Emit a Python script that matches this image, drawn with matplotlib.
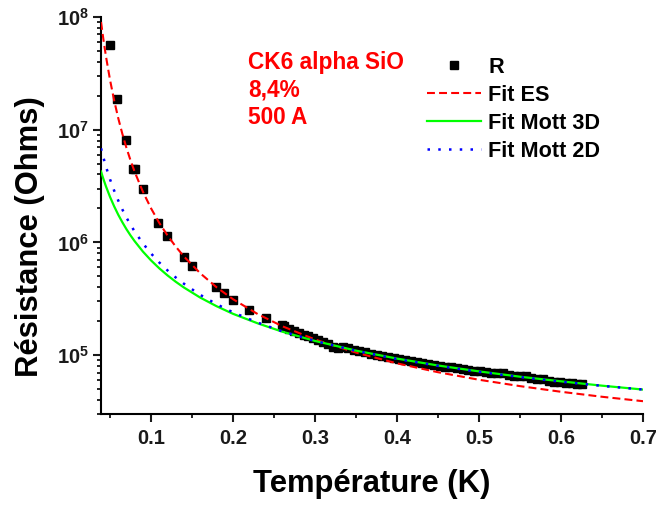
import numpy as np
import matplotlib
matplotlib.use("Agg")
import matplotlib.pyplot as plt
from matplotlib.ticker import FixedLocator, FixedFormatter, LogLocator, NullFormatter
from matplotlib.lines import Line2D

plt.rcParams['font.family'] = ['Liberation Sans', 'DejaVu Sans']
plt.rcParams['font.weight'] = 'bold'
plt.rcParams['mathtext.fontset'] = 'custom'
plt.rcParams['mathtext.rm'] = 'Liberation Sans:bold'
plt.rcParams['mathtext.it'] = 'Liberation Sans:bold'
plt.rcParams['mathtext.bf'] = 'Liberation Sans:bold'

# measured points (K, Ohms)
T_low = [0.050, 0.059, 0.070, 0.078, 0.080, 0.090, 0.109, 0.119, 0.140, 0.150,
         0.179, 0.189, 0.200, 0.219, 0.240, 0.260]
R_low = [5.65e7, 1.87e7, 8.1e6, 4.5e6, 4.5e6, 2.99e6, 1.49e6, 1.13e6, 7.36e5, 6.22e5,
         4.0e5, 3.56e5, 3.07e5, 2.5e5, 2.16e5, 1.84e5]
T_dense = [0.262, 0.268, 0.274, 0.280, 0.286, 0.292, 0.298, 0.304, 0.310, 0.316,
           0.322, 0.328, 0.334, 0.340, 0.347, 0.354, 0.361, 0.368, 0.375, 0.382,
           0.389, 0.396, 0.403, 0.410, 0.417, 0.424, 0.431, 0.438, 0.445, 0.452,
           0.459, 0.466, 0.473, 0.480, 0.487, 0.494, 0.501, 0.508, 0.515, 0.522,
           0.529, 0.536, 0.543, 0.550, 0.557, 0.564, 0.571, 0.578, 0.585, 0.592,
           0.599, 0.606, 0.613, 0.620, 0.626]
R_dense = [1.80e5, 1.72e5, 1.64e5, 1.58e5, 1.52e5, 1.47e5, 1.42e5, 1.37e5, 1.32e5, 1.27e5,
           1.19e5, 1.17e5, 1.18e5, 1.15e5, 1.11e5, 1.085e5, 1.06e5, 1.03e5, 1.005e5, 9.85e4,
           9.75e4, 9.45e4, 9.2e4, 9.0e4, 8.85e4, 8.7e4, 8.5e4, 8.35e4, 8.2e4, 8.05e4,
           7.95e4, 7.9e4, 7.7e4, 7.55e4, 7.45e4, 7.3e4, 7.2e4, 7.1e4, 7.0e4, 6.9e4,
           6.9e4, 6.7e4, 6.6e4, 6.5e4, 6.5e4, 6.3e4, 6.2e4, 6.15e4, 5.95e4, 5.85e4,
           5.8e4, 5.7e4, 5.65e4, 5.6e4, 5.55e4]

# fit curves
T_fit = [0.039, 0.042, 0.045, 0.05, 0.055, 0.06, 0.065, 0.07, 0.075, 0.08,
         0.09, 0.10, 0.11, 0.12, 0.13, 0.14, 0.16, 0.18, 0.20, 0.23,
         0.26, 0.30, 0.35, 0.40, 0.45, 0.50, 0.55, 0.60, 0.65, 0.70]
R_es = [8.98e7, 6.22e7, 4.46e7, 2.75e7, 1.815e7, 1.262e7, 9.17e6, 6.89e6, 5.33e6, 4.23e6,
        2.82e6, 2.005e6, 1.49e6, 1.155e6, 9.21e5, 7.52e5, 5.33e5, 4.00e5, 3.14e5, 2.32e5,
        1.81e5, 1.38e5, 1.056e5, 8.48e4, 7.08e4, 6.07e4, 5.33e4, 4.75e4, 4.29e4, 3.92e4]
R_mott3d = [4.25e6, 3.63e6, 3.14e6, 2.53e6, 2.09e6, 1.76e6, 1.51e6, 1.31e6, 1.153e6, 1.026e6,
            8.31e5, 6.93e5, 5.90e5, 5.11e5, 4.49e5, 3.99e5, 3.245e5, 2.72e5, 2.33e5, 1.92e5,
            1.62e5, 1.34e5, 1.10e5, 9.35e4, 8.12e4, 7.20e4, 6.46e4, 5.88e4, 5.38e4, 4.97e4]
R_mott2d = [6.82e6, 5.62e6, 4.70e6, 3.62e6, 2.88e6, 2.35e6, 1.96e6, 1.66e6, 1.434e6, 1.25e6,
            9.83e5, 7.98e5, 6.65e5, 5.66e5, 4.90e5, 4.31e5, 3.43e5, 2.835e5, 2.40e5, 1.95e5,
            1.63e5, 1.34e5, 1.095e5, 9.27e4, 8.06e4, 7.13e4, 6.41e4, 5.83e4, 5.36e4, 4.97e4]

x_major = [0.1, 0.2, 0.3, 0.4, 0.5, 0.6, 0.7]
x_minor = [0.05, 0.15, 0.25, 0.35, 0.45, 0.55, 0.65]
y_major = [1e5, 1e6, 1e7, 1e8]
y_labels = ['$10^{5}$', '$10^{6}$', '$10^{7}$', '$10^{8}$']
sample_lines = ['CK6 alpha SiO', '8,4%', '500 A']

T_data = T_low + T_dense
R_data = R_low + R_dense

red = '#ff0000'
green = '#00ff00'
blue = '#0000ff'

fig = plt.figure(figsize=(6.56, 5.05), dpi=100)
ax = fig.add_axes([0.154, 0.1796, 0.8262, 0.7873])

ax.plot(T_data, R_data, 's', color='black', markersize=5.2, zorder=2)
ax.plot(T_fit, R_es, color=red, lw=1.5, linestyle=(0, (3.8, 2.0)), zorder=3)
ax.plot(T_fit, R_mott3d, color=green, lw=1.6, zorder=3)
ax.plot(T_fit, R_mott2d, color=blue, lw=1.8, linestyle=(0, (1.0, 3.3)), zorder=4)

ax.set_yscale('log')
ax.set_xlim(0.039, 0.7)
ax.set_ylim(3e4, 1e8)

ax.xaxis.set_major_locator(FixedLocator(x_major))
ax.xaxis.set_minor_locator(FixedLocator(x_minor))
ax.xaxis.set_major_formatter(FixedFormatter([str(v) for v in x_major]))
ax.yaxis.set_major_locator(FixedLocator(y_major))
ax.yaxis.set_major_formatter(FixedFormatter(y_labels))
ax.yaxis.set_minor_locator(LogLocator(base=10, subs=np.arange(2, 10)))
ax.yaxis.set_minor_formatter(NullFormatter())

for s in ['top', 'right']:
    ax.spines[s].set_visible(False)
for s in ['left', 'bottom']:
    ax.spines[s].set_linewidth(1.5)

ax.tick_params(which='major', direction='out', length=5.5, width=1.5, labelsize=14.5, colors='#1a1a1a')
ax.tick_params(axis='x', which='major', pad=5)
ax.tick_params(axis='y', which='major', pad=3)
ax.tick_params(which='minor', direction='out', length=3.2, width=1.2)

ax.set_xlabel('Température (K)', fontsize=22.3, fontweight='bold', labelpad=15)
ax.set_ylabel('Résistance (Ohms)', fontsize=22.3, fontweight='bold')
ax.yaxis.set_label_coords(-0.104, 0.447)

# sample description
for i, line in enumerate(sample_lines):
    fig.text(248 / 656, 1 - (68.5 + 28 * i) / 505, line, color=red,
             fontsize=16.3, fontweight='bold', va='baseline', ha='left')

handles = [
    Line2D([], [], marker='s', linestyle='none', color='black', markersize=5.2),
    Line2D([], [], color=red, lw=1.5, linestyle=(0, (3.8, 2.0))),
    Line2D([], [], color=green, lw=1.6),
    Line2D([], [], color=blue, lw=1.8, linestyle=(0, (1.0, 3.3))),
]
labels = ['R', 'Fit ES', 'Fit Mott 3D', 'Fit Mott 2D']
ax.legend(handles, labels, loc='upper left', bbox_to_anchor=(427 / 656, 1 - 57 / 505),
          bbox_transform=fig.transFigure, frameon=False, borderpad=0, borderaxespad=0,
          handlelength=2.5, handletextpad=0.33, labelspacing=0.32, numpoints=1,
          prop={'size': 15.6, 'weight': 'bold'})

fig.savefig('out.png', dpi=100)
